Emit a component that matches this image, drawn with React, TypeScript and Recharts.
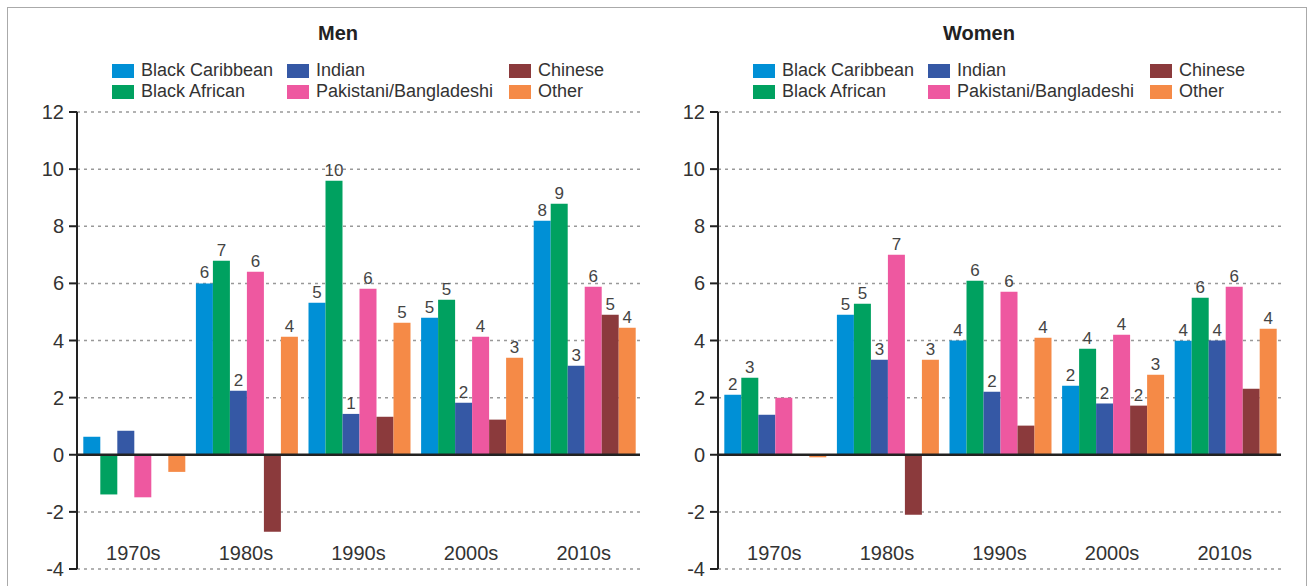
import { BarChart, Bar, XAxis, YAxis, CartesianGrid, ReferenceLine, LabelList, Legend } from 'recharts';

// decades on the x axis
const decades = ['1970s', '1980s', '1990s', '2000s', '2010s'];
const yTicks = [-4, -2, 0, 2, 4, 6, 8, 10, 12];

// Men
const menBlackCaribbean = [0.63, 6.0, 5.32, 4.8, 8.19];
const menBlackAfrican = [-1.39, 6.79, 9.59, 5.43, 8.79];
const menIndian = [0.84, 2.24, 1.43, 1.82, 3.12];
const menPakBang = [-1.49, 6.41, 5.81, 4.13, 5.88];
const menChinese = [null, -2.7, 1.33, 1.23, 4.9];
const menOther = [-0.6, 4.13, 4.62, 3.4, 4.45];

// Men bar labels (only some bars are labelled)
const menBlackCaribbeanLabels = [null, '6', '5', '5', '8'];
const menBlackAfricanLabels = [null, '7', '10', '5', '9'];
const menIndianLabels = [null, '2', '1', '2', '3'];
const menPakBangLabels = [null, '6', '6', '4', '6'];
const menChineseLabels = [null, null, null, null, '5'];
const menOtherLabels = [null, '4', '5', '3', '4'];

// Women
const womenBlackCaribbean = [2.1, 4.9, 4.0, 2.42, 3.99];
const womenBlackAfrican = [2.7, 5.29, 6.09, 3.71, 5.5];
const womenIndian = [1.4, 3.33, 2.21, 1.79, 4.0];
const womenPakBang = [2.0, 7.0, 5.71, 4.2, 5.88];
const womenChinese = [null, -2.1, 1.02, 1.72, 2.31];
const womenOther = [-0.09, 3.33, 4.1, 2.8, 4.41];

const womenBlackCaribbeanLabels = ['2', '5', '4', '2', '4'];
const womenBlackAfricanLabels = ['3', '5', '6', '4', '6'];
const womenIndianLabels = [null, '3', '2', '2', '4'];
const womenPakBangLabels = [null, '7', '6', '4', '6'];
const womenChineseLabels = [null, null, null, '2', null];
const womenOtherLabels = [null, '3', '4', '3', '4'];

const series = [
  { key: 'bc', name: 'Black Caribbean', color: '#0090D6' },
  { key: 'ba', name: 'Black African', color: '#00A160' },
  { key: 'ind', name: 'Indian', color: '#3558A5' },
  { key: 'pb', name: 'Pakistani/Bangladeshi', color: '#EE58A0' },
  { key: 'chi', name: 'Chinese', color: '#8B3A3C' },
  { key: 'oth', name: 'Other', color: '#F58A47' },
];

// legend is laid out in columns of two: BC/BA, Indian/PB, Chinese/Other
const legendColumns = [['bc', 'ba'], ['ind', 'pb'], ['chi', 'oth']];
const legendColumnWidths = [175, 222, 150];

type Vals = (number | null)[];
type Labs = (string | null)[];

function buildRows(values: Vals[], labels: Labs[]) {
  return decades.map((decade, i) => {
    const row: Record<string, any> = { decade };
    series.forEach((s, j) => {
      row[s.key] = values[j][i];
      row[s.key + 'Label'] = labels[j][i];
    });
    return row;
  });
}

const menRows = buildRows(
  [menBlackCaribbean, menBlackAfrican, menIndian, menPakBang, menChinese, menOther],
  [menBlackCaribbeanLabels, menBlackAfricanLabels, menIndianLabels, menPakBangLabels, menChineseLabels, menOtherLabels]
);
const womenRows = buildRows(
  [womenBlackCaribbean, womenBlackAfrican, womenIndian, womenPakBang, womenChinese, womenOther],
  [womenBlackCaribbeanLabels, womenBlackAfricanLabels, womenIndianLabels, womenPakBangLabels, womenChineseLabels, womenOtherLabels]
);

const FONT = '"Liberation Sans", Arial, sans-serif';

const DecadeTick = (props: any) => {
  const { x, y, payload } = props;
  return (
    <text x={x} y={y - 16} textAnchor="middle" dominantBaseline="central" fontSize={20} fill="#333">
      {payload.value}
    </text>
  );
};

const SwatchLegend = () => (
  <div style={{ display: 'flex', fontSize: 18, color: '#333', lineHeight: '21px' }}>
    {legendColumns.map((col, ci) => (
      <div key={ci} style={{ width: legendColumnWidths[ci] }}>
        {col.map((k) => {
          const s = series.find((x) => x.key === k)!;
          return (
            <div key={k} style={{ display: 'flex', alignItems: 'center', height: 21 }}>
              <span style={{ display: 'inline-block', width: 22, height: 14, background: s.color, marginRight: 7 }} />
              <span>{s.name}</span>
            </div>
          );
        })}
      </div>
    ))}
  </div>
);

function Panel({ title, rows, left }: { title: string; rows: any[]; left: number }) {
  return (
    <div style={{ position: 'absolute', left, top: 0, width: 660, height: 586 }}>
      <div
        style={{
          position: 'absolute',
          left: 0,
          width: 676,
          top: 22,
          textAlign: 'center',
          fontWeight: 'bold',
          fontSize: 20,
          color: '#222',
        }}
      >
        {title}
      </div>
      <BarChart
        width={660}
        height={586}
        data={rows}
        margin={{ top: 70, right: 20, bottom: 7, left: 0 }}
        barCategoryGap="5.6%"
        barGap={0}
      >
        <CartesianGrid vertical={false} stroke="#999" strokeWidth={1.5} strokeDasharray="3 4" />
        <XAxis
          dataKey="decade"
          height={10}
          axisLine={false}
          tickLine={false}
          tickSize={0}
          tickMargin={0}
          tick={<DecadeTick />}
          interval={0}
        />
        <YAxis
          width={77}
          domain={[-4, 12]}
          ticks={yTicks}
          interval={0}
          axisLine={{ stroke: '#222', strokeWidth: 2 }}
          tickLine={{ stroke: '#222', strokeWidth: 2 }}
          tickSize={8}
          tickMargin={5}
          tick={{ fontSize: 20, fill: '#333' }}
        />
        <Legend
          verticalAlign="top"
          content={<SwatchLegend />}
          wrapperStyle={{ position: 'absolute', top: 60, left: 112, width: 560 }}
        />
        {series.map((s) => (
          <Bar key={s.key} dataKey={s.key} name={s.name} fill={s.color} isAnimationActive={false}>
            <LabelList dataKey={s.key + 'Label'} position="top" offset={5} fontSize={17} fill="#444" />
          </Bar>
        ))}
        <ReferenceLine y={0} stroke="#222" strokeWidth={2.5} />
      </BarChart>
    </div>
  );
}

export default function App() {
  return (
    <div style={{ position: 'fixed', left: 0, top: 0, width: 1309, height: 586, background: '#fff', fontFamily: FONT, overflow: 'hidden' }}>
      <div
        style={{
          position: 'absolute',
          left: 7,
          top: 7,
          width: 1300,
          height: 620,
          border: '1.5px solid #aaa',
          boxSizing: 'border-box',
        }}
      />
      <Panel title="Men" rows={menRows} left={0} />
      <Panel title="Women" rows={womenRows} left={641} />
    </div>
  );
}
